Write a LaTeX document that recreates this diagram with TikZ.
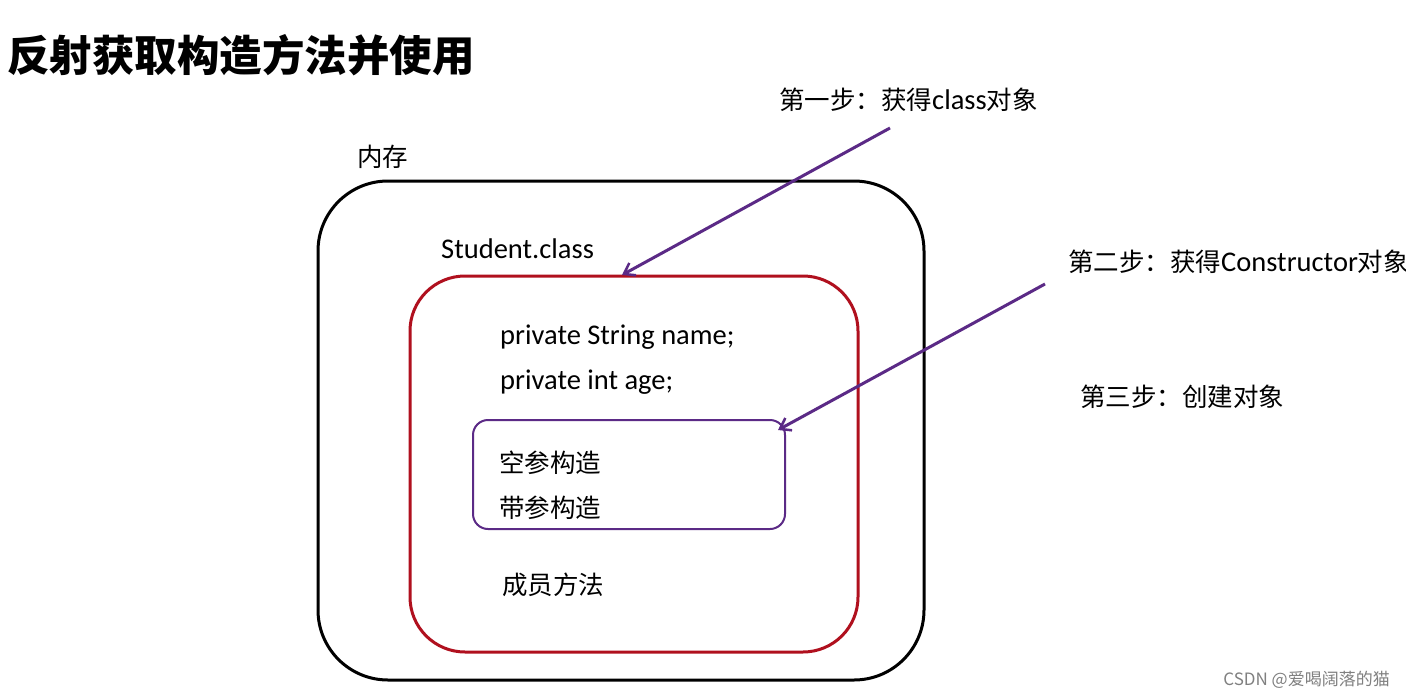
\documentclass[tikz,border=0pt]{standalone}
\usepackage{fontspec}
\setmainfont{Carlito}
\newfontfamily\cjk{Noto Sans CJK SC}
\usetikzlibrary{arrows.meta}
\definecolor{pur}{HTML}{5B2A86}
\definecolor{dred}{HTML}{B0101E}
\newcommand{\cz}{\cjk\fontsize{25.5}{27}\selectfont}
\begin{document}
\begin{tikzpicture}[x=1pt,y=-1pt,
  txt/.style={anchor=west,inner sep=0pt,font=\fontsize{28.5}{30}\selectfont},
  arr/.style={draw=pur,line width=3pt,-{Straight Barb[length=10pt,width=14pt,line width=2.5pt]}}]
\useasboundingbox[fill=white] (0,0) rectangle (1406,699);
\node[anchor=west,inner sep=0pt,font=\cjk\bfseries\fontsize{42.5}{44}\selectfont] (title) at (7,55) {反射获取构造方法并使用};
\node[txt,font=\cz] (mem) at (357,157) {内存};
\draw[line width=3pt,rounded corners=70pt] (318,181) rectangle (924,680);
\node[txt] (sc) at (441,249) {Student.class};
\draw[dred,line width=3pt,rounded corners=55pt] (410,276) rectangle (858,652);
\coordinate (redtop) at (622,275);
\node[txt] (f1) at (500,337) {private String name;};
\node[txt] (f2) at (500,382) {private int age;};
\draw[pur,line width=2pt,rounded corners=15pt] (473,420) rectangle (785,529);
\coordinate (purtop) at (778,430);
\node[txt,font=\cz] (c1) at (499,463) {空参构造};
\node[txt,font=\cz] (c2) at (499,508) {带参构造};
\node[txt,font=\cz] (m) at (502,585) {成员方法};
\node[txt] (s1) at (779,100) {{\cz 第一步：获得}class{\cz 对象}};
\node[txt] (s2) at (1068,262) {{\cz 第二步：获得}Constructor{\cz 对象}};
\node[txt,font=\cz] (s3) at (1080,397) {第三步：创建对象};
\coordinate (a1) at (890,128);
\coordinate (a2) at (1045,284);
\draw[arr] (a1) -- (redtop);
\draw[arr] (a2) -- (purtop);
\node[anchor=east,inner sep=0pt,text=gray,font=\cjk\fontsize{17}{19}\selectfont] (wm) at (1390,680) {CSDN @爱喝阔落的猫};
\end{tikzpicture}
\end{document}
